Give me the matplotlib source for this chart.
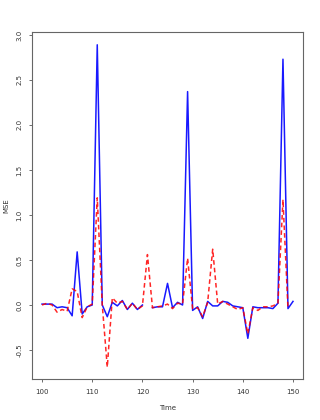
import numpy as np
import matplotlib
matplotlib.use("Agg")
import matplotlib.pyplot as plt

time = list(range(100, 151))

# blue solid series (NaN at 121 = gap in the line)
mse_blue = [0.01, 0.01, 0.01, -0.03, -0.02, -0.03, -0.12, 0.59, -0.10, -0.02,
            0.00, 2.89, 0.00, -0.13, 0.03, -0.01, 0.05, -0.05, 0.02, -0.05,
            0.00, np.nan, -0.03, -0.02, -0.02, 0.24, -0.03, 0.03, 0.00, 2.37,
            -0.06, -0.02, -0.15, 0.04, -0.01, -0.01, 0.04, 0.03, -0.01, -0.02,
            -0.03, -0.37, -0.02, -0.03, -0.03, -0.03, -0.04, 0.02, 2.73, -0.04,
            0.04]

# red dashed series
mse_red = [0.00, 0.02, 0.00, -0.08, -0.05, -0.07, 0.18, 0.15, -0.14, -0.02,
           0.01, 1.19, 0.00, -0.69, 0.08, 0.02, 0.04, -0.05, 0.02, -0.05,
           -0.01, 0.56, -0.03, -0.02, -0.01, 0.01, -0.04, 0.02, 0.01, 0.52,
           -0.04, -0.03, -0.13, 0.03, 0.62, 0.01, 0.04, 0.01, -0.02, -0.05,
           -0.03, -0.32, -0.03, -0.06, -0.02, -0.02, -0.01, 0.02, 1.17, -0.04,
           np.nan]

fs = 5
fig = plt.figure(figsize=(3.2, 4.2), dpi=100)
ax = fig.add_axes([0.1, 0.0976, 0.847, 0.8264])

ax.plot(time, mse_blue, color="blue", lw=1.1, alpha=0.9)
ax.plot(time, mse_red, color="red", lw=1.1, ls=(0, (3, 2)), alpha=0.85)

ax.set_xlim(98, 152)
ax.set_ylim(-0.822, 3.033)
ax.set_xticks([100, 110, 120, 130, 140, 150])
ax.set_yticks([-0.5, 0.0, 0.5, 1.0, 1.5, 2.0, 2.5, 3.0])
ax.set_yticklabels(["-0.5", "0.0", "0.5", "1.0", "1.5", "2.0", "2.5", "3.0"],
                   rotation=90, va="center")
ax.tick_params(labelsize=fs, length=2.5, width=0.6, color="#555555",
               labelcolor="#333333")
ax.tick_params(axis="x", pad=4.5)
ax.tick_params(axis="y", pad=4.5)
for s in ax.spines.values():
    s.set_color("#666666")
    s.set_linewidth(0.8)

ax.set_xlabel("Time", fontsize=fs, color="#333333", labelpad=7.5)
ax.set_ylabel("MSE", fontsize=fs, color="#333333", labelpad=5)

fig.savefig("out.png", dpi=100)
